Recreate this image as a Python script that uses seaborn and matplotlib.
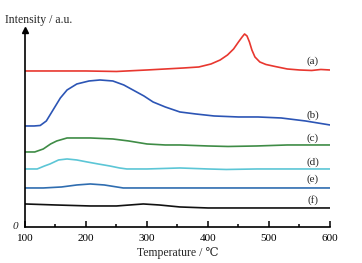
import pandas as pd
import matplotlib
matplotlib.use("Agg")
import matplotlib.pyplot as plt
import seaborn as sns

# curves (temperature in C, intensity in arbitrary units)
t_a = [100, 150, 200, 250, 300, 330, 360, 385, 405, 420, 432, 442, 450, 456, 460, 464, 468, 472, 477, 485, 495, 510, 530, 550, 570, 585, 600]
i_a = [156, 156, 156, 155.5, 157, 158, 159, 160, 163, 167, 172, 178, 185, 190, 193, 191, 185, 177, 170, 165, 162.5, 160.5, 158, 157, 156.5, 157.5, 157]

t_b = [100, 115, 125, 135, 146, 158, 169, 185, 205, 223, 244, 262, 277, 295, 310, 330, 354, 380, 410, 450, 482, 520, 560, 600]
i_b = [101, 101, 101.5, 106, 117, 129, 137, 143, 146, 147, 146, 142, 137, 131, 125, 120, 115, 113, 111, 110, 110, 109, 106, 102]

t_c = [100, 116, 130, 142, 152, 169, 207, 244, 270, 300, 330, 354, 400, 433, 480, 530, 600]
i_c = [75, 75, 78, 83, 86, 89, 89, 88, 86, 83, 82, 82, 81, 80.5, 81, 82, 82]

t_d = [100, 120, 132, 141, 155, 169, 185, 202, 220, 239, 255, 267, 300, 354, 400, 430, 480, 540, 600]
i_d = [58, 58, 61, 63, 67, 68, 67, 65, 63, 61, 59, 58, 58, 59, 58, 57.5, 58, 58, 58]

t_e = [100, 130, 160, 185, 207, 230, 261, 300, 400, 500, 600]
i_e = [39, 39, 40, 42, 43, 42, 39, 39, 39, 39, 39]

t_f = [100, 150, 207, 250, 294, 320, 354, 400, 450, 500, 600]
i_f = [23, 22, 21, 21, 23, 22, 20, 19, 19, 19, 19]

names = ["(a)", "(b)", "(c)", "(d)", "(e)", "(f)"]
label_y = [166, 112, 89, 65, 48, 27]
colors = ["#e8372f", "#2c55b5", "#3f8c46", "#5cc6d6", "#2f6db0", "#111111"]
major_ticks = [100, 200, 300, 400, 500, 600]
minor_ticks = [150, 250, 350, 450, 550]

frames = []
for n, t, i in zip(names, [t_a, t_b, t_c, t_d, t_e, t_f], [i_a, i_b, i_c, i_d, i_e, i_f]):
    frames.append(pd.DataFrame({"sample": n, "T": t, "I": i}))
df = pd.concat(frames, ignore_index=True)

sns.set_style("ticks")
plt.rcParams["font.family"] = ["Liberation Serif", "DejaVu Serif"]

fig = plt.figure(figsize=(3.62, 2.63), dpi=100)
ax = fig.add_axes([0.069, 0.137, 0.8425, 0.749])

sns.lineplot(data=df, x="T", y="I", hue="sample", palette=colors, estimator=None,
             sort=False, linewidth=1.2, legend=False, ax=ax)

for n, y in zip(names, label_y):
    ax.text(572, y, n, fontsize=8, ha="center", va="center")

ax.set_xlim(100, 600)
ax.set_ylim(0, 197)
ax.set_yticks([])
ax.set_xticks(major_ticks)
ax.tick_params(axis="x", length=0, labelsize=8, pad=5, labelcolor="black")
# tick marks pointing up into the plot
trans = ax.get_xaxis_transform()
ax.vlines(major_ticks, 0, 0.028, transform=trans, color="black", linewidth=1.1, clip_on=False)
ax.vlines(minor_ticks, 0, 0.016, transform=trans, color="black", linewidth=1.1, clip_on=False)

ax.spines["top"].set_visible(False)
ax.spines["right"].set_visible(False)
ax.spines["left"].set_linewidth(1.2)
ax.spines["bottom"].set_linewidth(1.2)
ax.spines["left"].set_color("black")
ax.spines["bottom"].set_color("black")
# arrow head on the y axis
ax.plot(0, 1, marker="^", color="black", markersize=4, transform=ax.transAxes, clip_on=False)

ax.set_xlabel("Temperature / \u2103", fontsize=8.5)
ax.xaxis.set_label_coords(0.50, -0.10)
ax.set_ylabel("")
fig.text(0.015, 0.925, "Intensity / a.u.", fontsize=8.5, ha="left", va="center")
fig.text(0.042, 0.137, "0", fontsize=8, fontstyle="italic", ha="center", va="center")

plt.savefig("out.png", dpi=100)
